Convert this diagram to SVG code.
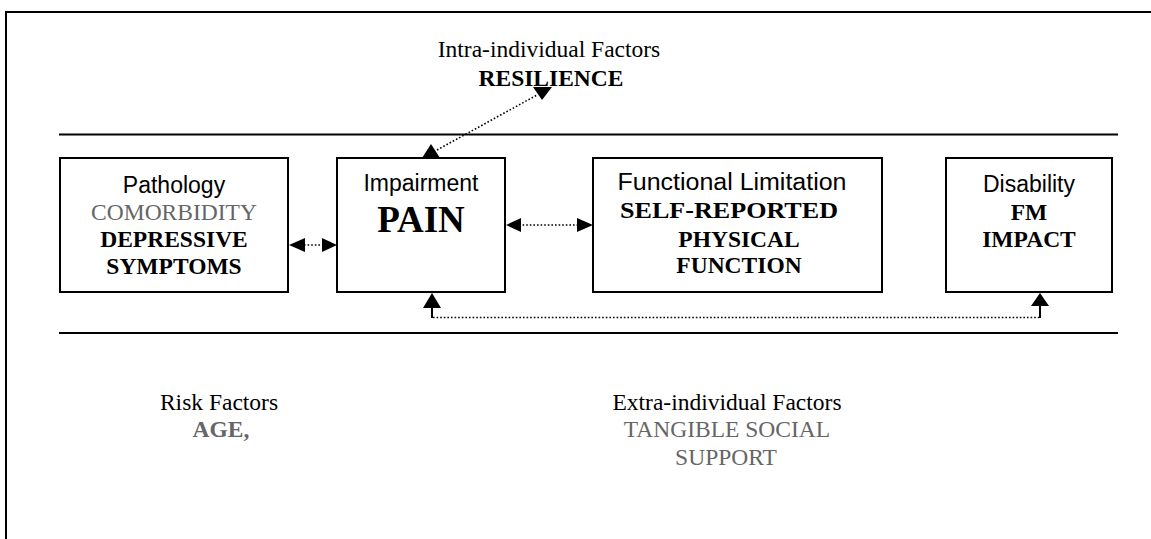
<svg xmlns="http://www.w3.org/2000/svg" width="1151" height="539" viewBox="0 0 1151 539">
<style>
.frame{fill:none;stroke:#000;stroke-width:2}
.box{fill:#fff;stroke:#000;stroke-width:2}
.dot{fill:none;stroke:#000;stroke-width:1.6;stroke-dasharray:1.6 2}
.solid{fill:none;stroke:#000;stroke-width:2}
.head{fill:#000}
.sans{font-family:"Liberation Sans",Arial,sans-serif;font-size:23px;fill:#000;text-anchor:middle}
.ser{font-family:"Liberation Serif","Times New Roman",serif;font-size:23.5px;fill:#000;text-anchor:middle}
.b{font-weight:bold}
.g{fill:#666}
</style>
<rect width="1151" height="539" fill="#fff"/>
<g id="frame">
<path class="frame" d="M6,539 V12 H1151"/>
<line class="frame" x1="59" y1="134.5" x2="1118" y2="134.5"/>
<line class="frame" x1="59" y1="333" x2="1118" y2="333"/>
</g>
<g id="intra">
<text class="ser" x="549" y="57">Intra-individual Factors</text>
<text class="ser b" x="551" y="86">RESILIENCE</text>
</g>
<g id="pathology">
<rect class="box" x="60" y="158" width="228" height="134"/>
<text class="sans" x="174" y="193">Pathology</text>
<text class="ser g" x="174" y="220">COMORBIDITY</text>
<text class="ser b" x="174" y="247">DEPRESSIVE</text>
<text class="ser b" x="174" y="274">SYMPTOMS</text>
</g>
<g id="impairment">
<rect class="box" x="337" y="158" width="168" height="134"/>
<text class="sans" x="421" y="191">Impairment</text>
<text class="ser b" x="421" y="232" style="font-size:37px">PAIN</text>
</g>
<g id="functional">
<rect class="box" x="593" y="158" width="289" height="134"/>
<text class="sans" x="732" y="190" textLength="229" lengthAdjust="spacingAndGlyphs">Functional Limitation</text>
<text class="ser b" x="729" y="218" textLength="218" lengthAdjust="spacingAndGlyphs">SELF-REPORTED</text>
<text class="ser b" x="739" y="247">PHYSICAL</text>
<text class="ser b" x="739" y="273">FUNCTION</text>
</g>
<g id="disability">
<rect class="box" x="946" y="158" width="166" height="134"/>
<text class="sans" x="1029" y="192">Disability</text>
<text class="ser b" x="1029" y="220">FM</text>
<text class="ser b" x="1029" y="247">IMPACT</text>
</g>
<g id="risk">
<text class="ser" x="219" y="410">Risk Factors</text>
<text class="ser b g" x="221" y="437">AGE,</text>
</g>
<g id="extra">
<text class="ser" x="727" y="410">Extra-individual Factors</text>
<text class="ser g" x="727" y="437">TANGIBLE SOCIAL</text>
<text class="ser g" x="726" y="465">SUPPORT</text>
</g>
<g id="connectors">
<line class="dot" x1="437" y1="150" x2="537" y2="95"/>
<polygon class="head" points="431,144 422,158 440,158"/>
<polygon class="head" points="542,100 533,87 552,87"/>
<line class="dot" x1="304" y1="245" x2="324" y2="245"/>
<polygon class="head" points="289,245 305,238 305,252"/>
<polygon class="head" points="337,245 322,238 322,252"/>
<line class="dot" x1="519" y1="225" x2="579" y2="225"/>
<polygon class="head" points="506,225 521,218 521,232"/>
<polygon class="head" points="593,225 577,218 577,232"/>
<polyline class="solid" points="432,306 432,318"/>
<polygon class="head" points="432,293 423,308 441,308"/>
<line class="dot" x1="433" y1="317.5" x2="1039" y2="317.5"/>
<polyline class="solid" points="1040,304 1040,318"/>
<polygon class="head" points="1040,293 1031,306 1049,306"/>
</g>
</svg>
